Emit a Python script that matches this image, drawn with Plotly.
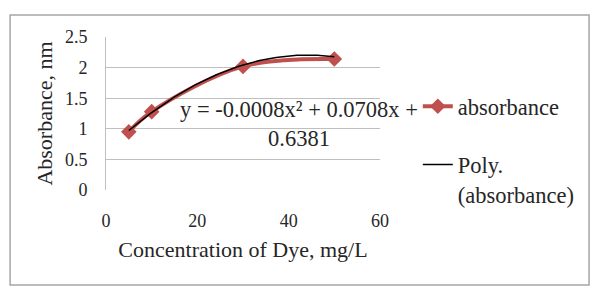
import numpy as np
import plotly.graph_objects as go

# Data
concentration = [5, 10, 30, 50]
absorbance = [0.95, 1.28, 2.02, 2.14]
poly_coeffs = [-0.0008, 0.0708, 0.6381]  # trendline shown on chart
x_ticks = [0, 20, 40, 60]
y_ticks = [0, 0.5, 1, 1.5, 2, 2.5]
equation_text = "y = -0.0008x\u00b2 + 0.0708x +<br>0.6381"

FONT = "Liberation Serif, Times New Roman, serif"
RED = "#C0504D"
GRID = "#BFBFBF"
TXT = "#262626"

trend_x = np.linspace(min(concentration), max(concentration), 100)
trend_y = np.polyval(poly_coeffs, trend_x)

fig = go.Figure()
fig.add_trace(go.Scatter(
    x=concentration, y=absorbance, mode="lines+markers", name="absorbance",
    line=dict(color=RED, width=4, shape="spline", smoothing=1.0),
    marker=dict(symbol="diamond", size=12, color=RED),
    legendgroup="a",
))
fig.add_trace(go.Scatter(
    x=trend_x, y=trend_y, mode="lines", name="Poly.<br>(absorbance)",
    line=dict(color="black", width=1.5),
    legendgroup="b",
))

fig.add_annotation(
    x=42.3, y=1.08, xref="x", yref="y", text=equation_text, showarrow=False,
    font=dict(family=FONT, size=22.5, color=TXT), align="center",
)

# outer border
fig.add_shape(type="rect", xref="paper", yref="paper",
              x0=-0.350, x1=1.763, y0=-0.621, y1=1.144,
              line=dict(color="#A6A6A6", width=1.5), layer="below")

fig.update_layout(
    width=595, height=289,
    margin=dict(l=106, r=215, t=37, b=99),
    paper_bgcolor="white", plot_bgcolor="white",
    font=dict(family=FONT, color=TXT),
    legend=dict(x=1.138, xanchor="left", y=0.685, yanchor="top",
                font=dict(family=FONT, size=22.5, color=TXT),
                traceorder="grouped", tracegroupgap=26, valign="top",
                bgcolor="rgba(0,0,0,0)"),
    xaxis=dict(range=[0, 60], tickvals=x_ticks, showgrid=False, zeroline=False,
               showline=False, ticks="outside", ticklen=14, tickcolor="rgba(0,0,0,0)",
               tickfont=dict(family=FONT, size=18, color=TXT),
               title=dict(text="Concentration of Dye, mg/L", standoff=12,
                          font=dict(family=FONT, size=22, color=TXT))),
    yaxis=dict(range=[0, 2.5], tickvals=y_ticks, showgrid=True, gridcolor=GRID,
               gridwidth=1, zeroline=False, showline=True, linecolor=GRID,
               linewidth=1, ticks="outside", ticklen=14, tickcolor="rgba(0,0,0,0)",
               tickfont=dict(family=FONT, size=18, color=TXT),
               title=dict(text="Absorbance, nm", standoff=6,
                          font=dict(family=FONT, size=22, color=TXT))),
)

fig.write_html("out.html", config={"displayModeBar": False},
               post_script="document.body.style.margin='0';document.body.style.overflow='hidden';")
